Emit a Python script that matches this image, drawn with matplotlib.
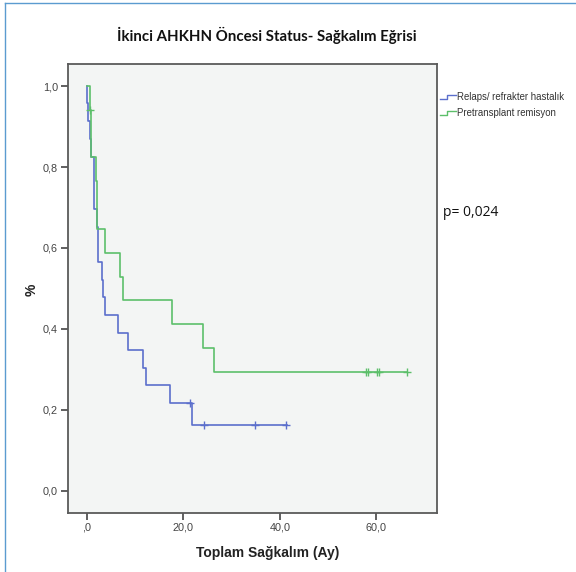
import matplotlib.pyplot as plt
from matplotlib.lines import Line2D

# Kaplan-Meier step data (time in months, survival after step)
relaps_t = [0, 0.2, 0.3, 0.8, 1.0, 1.5, 1.6, 2.1, 2.4, 3.1, 3.4, 3.8, 6.6, 8.5, 11.7, 12.3, 17.3, 21.8, 41.4]
relaps_s = [1.0, 0.957, 0.913, 0.870, 0.826, 0.783, 0.696, 0.652, 0.565, 0.522, 0.478, 0.435, 0.391, 0.348, 0.304, 0.261, 0.217, 0.163, 0.163]
relaps_cens_t = [21.4, 24.3, 34.9, 41.3]
relaps_cens_s = [0.217, 0.163, 0.163, 0.163]

remisyon_t = [0, 0.7, 0.9, 1.0, 1.9, 2.1, 3.8, 7.0, 7.5, 17.6, 24.0, 26.4, 66.4]
remisyon_s = [1.0, 0.941, 0.882, 0.824, 0.765, 0.647, 0.588, 0.529, 0.471, 0.412, 0.353, 0.294, 0.294]
remisyon_cens_t = [0.8, 57.9, 58.2, 60.2, 60.6, 66.4]
remisyon_cens_s = [0.941, 0.294, 0.294, 0.294, 0.294, 0.294]

series_names = ["Relaps/ refrakter hastalık", "Pretransplant remisyon"]
x_ticks = [0, 20, 40, 60]
x_tick_labels = [",0", "20,0", "40,0", "60,0"]
y_ticks = [0.0, 0.2, 0.4, 0.6, 0.8, 1.0]
y_tick_labels = ["0,0", "0,2", "0,4", "0,6", "0,8", "1,0"]

blue = "#5b6fcc"
green = "#5cbf6a"

plt.rcParams["font.family"] = ["Liberation Sans", "DejaVu Sans"]

fig = plt.figure(figsize=(5.76, 5.72), dpi=100)
ax = fig.add_axes([0.1175, 0.1037, 0.641, 0.784])
ax.set_facecolor("#f3f5f4")

ax.step(relaps_t, relaps_s, where="post", color=blue, lw=1.2)
ax.step(remisyon_t, remisyon_s, where="post", color=green, lw=1.2)
ax.plot(relaps_cens_t, relaps_cens_s, ls="none", marker="+", ms=6, mew=1.0, color=blue)
ax.plot(remisyon_cens_t, remisyon_cens_s, ls="none", marker="+", ms=6, mew=1.0, color=green)

ax.set_xlim(-3.9, 72.5)
ax.set_ylim(-0.054, 1.054)
ax.set_xticks(x_ticks)
ax.set_xticklabels(x_tick_labels)
ax.set_yticks(y_ticks)
ax.set_yticklabels(y_tick_labels)
ax.tick_params(direction="out", length=5, width=1.2, color="#444444",
               labelsize=7.8, labelcolor="#444444", pad=2)
for sp in ax.spines.values():
    sp.set_color("#5a5a5a")
    sp.set_linewidth(1.3)

fig.text(267 / 576, 1 - 35 / 572, "İkinci AHKHN Öncesi Status- Sağkalım Eğrisi",
         ha="center", va="center", fontsize=10.8, fontweight="bold",
         family="Lato", color="#111111")
fig.text(268 / 576, 1 - 553 / 572, "Toplam Sağkalım (Ay)", ha="center", va="center",
         fontsize=10, fontweight="bold", color="#222222")
fig.text(32 / 576, 1 - 290 / 572, "%", ha="center", va="center", rotation=90,
         fontsize=10, fontweight="bold", color="#222222")
fig.text(443 / 576, 1 - 212 / 572, "p= 0,024", ha="left", va="center",
         fontsize=10, family="Open Sans", color="#111111")

# legend drawn outside the axes, with small step glyphs
for i, (name, col) in enumerate(zip(series_names, [blue, green])):
    yc = 1 - (97 + 16 * i) / 572
    xs = [440 / 576, 447 / 576, 447 / 576, 456 / 576]
    ys = [yc - 0.004, yc - 0.004, yc + 0.004, yc + 0.004]
    fig.add_artist(Line2D(xs, ys, color=col, lw=1.0))
    fig.text(457 / 576, yc, name, ha="left", va="center", fontsize=6.9,
             color="#333333")

# screenshot frame (left and top edges)
fig.add_artist(Line2D([5 / 576, 5 / 576], [0, 1 - 3 / 572], color="#5b9bd0", lw=1.0))
fig.add_artist(Line2D([5 / 576, 1], [1 - 3 / 572, 1 - 3 / 572], color="#5b9bd0", lw=1.0))

fig.savefig("out.png", dpi=100)
